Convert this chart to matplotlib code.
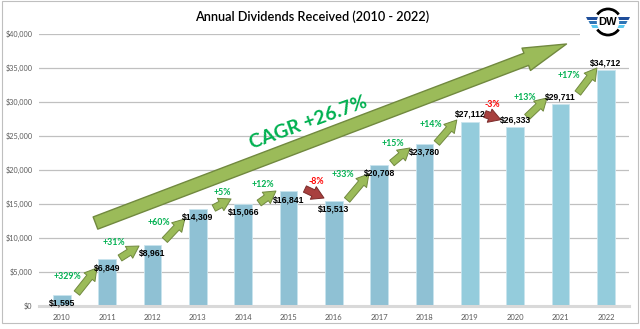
import matplotlib
matplotlib.use("Agg")
import matplotlib.pyplot as plt
from matplotlib.patches import Rectangle, Circle, Polygon, Arc, ArrowStyle

# ---------------- data ----------------
years = ["2010", "2011", "2012", "2013", "2014", "2015", "2016",
         "2017", "2018", "2019", "2020", "2021", "2022"]
dividends = [1595, 6849, 8961, 14309, 15066, 16841, 15513,
             20708, 23780, 27112, 26333, 29711, 34712]
value_labels = ["$1,595", "$6,849", "$8,961", "$14,309", "$15,066", "$16,841",
                "$15,513", "$20,708", "$23,780", "$27,112", "$26,333",
                "$29,711", "$34,712"]
growth_labels = ["+329%", "+31%", "+60%", "+5%", "+12%", "-8%", "+33%",
                 "+15%", "+14%", "-3%", "+13%", "+17%"]
ytick_vals = [0, 5000, 10000, 15000, 20000, 25000, 30000, 35000, 40000]
ytick_labels = ["$0", "$5,000", "$10,000", "$15,000", "$20,000", "$25,000",
                "$30,000", "$35,000", "$40,000"]
title = "Annual Dividends Received (2010 - 2022)"
cagr_label = "CAGR +26.7%"

# ---------------- figure ----------------
W, H = 640, 329
fig = plt.figure(figsize=(W / 100, H / 100), dpi=100)
fig.patch.set_facecolor("white")

ax = fig.add_axes([39.3 / W, 1 - 306 / H, 589.3 / W, 272 / H])
ax.set_xlim(-0.5, 12.5)
ax.set_ylim(0, 40000)
x = list(range(len(years)))

colors = ["#8FC1D4"] * 9 + ["#94CCDC"] * 4
ax.bar(x, dividends, width=0.39, color=colors, edgecolor="#C9E4EE",
       linewidth=0.6, zorder=2)

ax.set_yticks(ytick_vals)
ax.set_yticklabels(ytick_labels, fontsize=5.2, color="#595959", family="Lato")
ax.set_xticks(x)
ax.set_xticklabels(years, fontsize=5.5, color="#595959", family="Lato")
ax.tick_params(axis="both", length=0)
ax.tick_params(axis="y", pad=5)
ax.tick_params(axis="x", pad=6)
ax.grid(axis="y", color="#C0C0C0", linewidth=0.9, zorder=0)
ax.set_axisbelow(True)
for s in ["left", "right", "top"]:
    ax.spines[s].set_visible(False)
ax.spines["bottom"].set_color("#D9D9D9")
ax.spines["bottom"].set_linewidth(2.2)

# value labels: below top for early years, above for late years
for i, (v, lab) in enumerate(zip(dividends, value_labels)):
    if i <= 8:
        ax.text(i, v - 1200, lab, ha="center", va="center", fontsize=6.2,
                fontweight="bold", family="Liberation Sans", color="black", zorder=5)
    else:
        ax.text(i, v + 1050, lab, ha="center", va="center", fontsize=6.2,
                fontweight="bold", family="Liberation Sans", color="black", zorder=5)

# growth arrows (tail -> head) in data coordinates
arrow_tails = [(0.33, 1900), (1.28, 7060), (2.27, 9700), (3.35, 14400),
               (4.35, 15150), (5.36, 17200), (6.29, 15600), (7.28, 21030),
               (8.27, 23970), (9.33, 28230), (10.26, 27800), (11.38, 31320)]
arrow_heads = [(0.77, 5590), (1.70, 8820), (2.71, 12800), (3.73, 15740),
               (4.72, 16910), (5.78, 15880), (6.77, 19410), (7.68, 23240),
               (8.71, 27350), (9.68, 27400), (10.70, 30590), (11.80, 35000)]
label_pos = [(0.13, 4265), (1.15, 9265), (2.14, 12206), (3.53, 16618),
             (4.43, 17941), (5.60, 18382), (6.20, 19265), (7.30, 23824),
             (8.14, 26618), (9.49, 29559), (10.21, 30735), (11.18, 33824)]

small_style = ArrowStyle.Simple(head_length=0.85, head_width=1.0, tail_width=0.5)
for t, h, lp, g in zip(arrow_tails, arrow_heads, label_pos, growth_labels):
    neg = g.startswith("-")
    fc = "#A8403E" if neg else "#9BBB59"
    ec = "#7A2B2A" if neg else "#71893F"
    tc = "#FF0000" if neg else "#00B050"
    ax.annotate("", xy=h, xytext=t,
                arrowprops=dict(arrowstyle=small_style, mutation_scale=10,
                                fc=fc, ec=ec, lw=0.7, shrinkA=0, shrinkB=0),
                zorder=4)
    ax.text(lp[0], lp[1], g, ha="center", va="center", fontsize=6.3,
            fontweight="bold", family="Lato", color=tc, zorder=5)

# big CAGR arrow
big_style = ArrowStyle.Simple(head_length=1.55, head_width=0.86, tail_width=0.47)
ax.annotate("", xy=(11.13, 38530), xytext=(0.739, 12200),
            arrowprops=dict(arrowstyle=big_style, mutation_scale=20,
                            fc="#9BBB59", ec="#71893F", lw=1.0,
                            shrinkA=0, shrinkB=0), zorder=3)
ax.text(5.43, 26900, cagr_label, ha="center", va="center", rotation=20,
        fontsize=14, fontweight="bold", family="Lato", color="#00B050",
        rotation_mode="anchor", zorder=5)

# title
fig.text(312 / W, 1 - 17 / H, title, ha="center", va="center", fontsize=9.2,
         family="Lato", fontweight="semibold", color="black")

# outer border
fig.patches.append(Rectangle((2 / W, 1 - 323 / H), 636 / W, 322 / H,
                             transform=fig.transFigure, fill=False,
                             edgecolor="#BFBFBF", linewidth=0.8))

# logo
lax = fig.add_axes([580 / W, 1 - 42 / H, 56 / W, 40 / H])
lax.set_xlim(-28, 28)
lax.set_ylim(-20, 20)
lax.set_aspect("equal")
lax.axis("off")
lax.add_patch(Rectangle((-28, -20), 56, 40, color="white", zorder=0))
lax.add_patch(Arc((0, 0), 26, 26, theta1=35, theta2=145, color="black", lw=2.0))
lax.add_patch(Arc((0, 0), 26, 26, theta1=215, theta2=325, color="black", lw=2.0))
wing_cols = ["#1F4E9A", "#2E75B6", "#5BC8EE"]
for k, c in enumerate(wing_cols):
    y0 = 5 - k * 4
    for sgn in (-1, 1):
        xa = sgn * 9
        xb = sgn * (22 - k * 2.5)
        lax.add_patch(Polygon([(xa, y0), (xb, y0), (xb - sgn * 1.5, y0 - 3),
                               (xa, y0 - 3)], closed=True, color=c, lw=0))
lax.add_patch(Circle((0, 0), 10.5, color="white", zorder=3))
lax.text(0, 0, "DW", ha="center", va="center", fontsize=8, fontweight="bold",
         family="Liberation Sans", color="black", zorder=4)

fig.savefig("out.png", dpi=100)
